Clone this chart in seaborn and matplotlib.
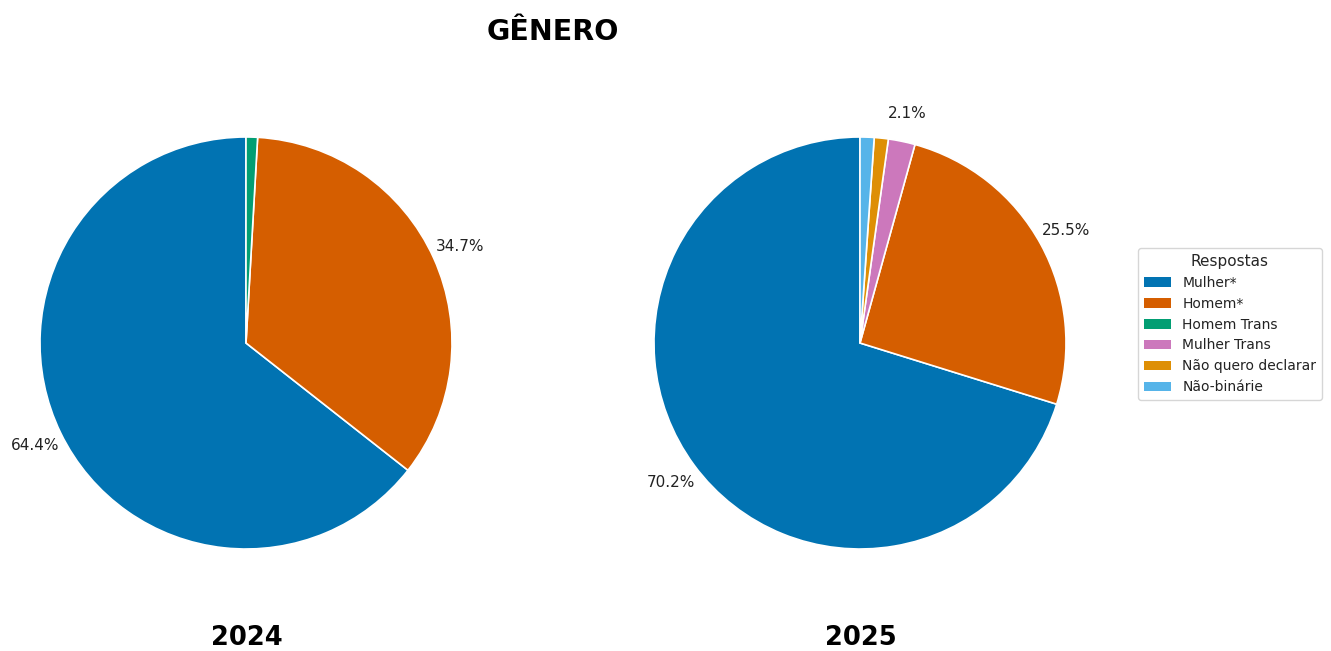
import matplotlib
matplotlib.use("Agg")
import matplotlib.pyplot as plt
import seaborn as sns
from matplotlib.patches import Patch

sns.set_theme(style="white")
plt.rcParams['font.family'] = ['DejaVu Sans']

categories = ["Mulher*", "Homem*", "Homem Trans", "Mulher Trans", "Não quero declarar", "Não-binárie"]
colors_cat = ["#0173b2", "#d55e00", "#029e73", "#cc78bc", "#de8f05", "#56b4e9"]

labels_2024 = ["Mulher*", "Homem*", "Homem Trans"]
values_2024 = [64.4, 34.7, 0.9]

labels_2025 = ["Mulher*", "Homem*", "Mulher Trans", "Não quero declarar", "Não-binárie"]
values_2025 = [70.2, 25.5, 2.1, 1.1, 1.1]

years = ["2024", "2025"]

W, H = 1331, 651
fig = plt.figure(figsize=(W / 100, H / 100), dpi=100)

cmap = dict(zip(categories, colors_cat))


def pct(p):
    return f"{p:.1f}%" if p > 2 else ""


def draw(cx, cy, r, labels, values, year):
    half = 1.25 * r
    ax = fig.add_axes([(cx - half) / W, (H - cy - half) / H, 2 * half / W, 2 * half / H])
    ax.pie(values, colors=[cmap[l] for l in labels], startangle=90,
           autopct=pct, pctdistance=1.14,
           wedgeprops=dict(edgecolor="white", linewidth=1.2),
           textprops=dict(fontsize=11, color="#222222"))
    ax.set_xlim(-1.25, 1.25)
    ax.set_ylim(-1.25, 1.25)
    ax.set_aspect("equal")
    ax.axis("off")
    fig.text((cx + 1) / W, 1 - 638 / H, year, ha="center", va="center",
             fontsize=18.5, fontweight="bold", color="black")


draw(246, 343, 206, labels_2024, values_2024, years[0])
draw(860, 343, 206, labels_2025, values_2025, years[1])

fig.text(553 / W, 1 - 32 / H, "GÊNERO", ha="center", va="center",
         fontsize=20.5, fontweight="bold", color="black")

handles = [Patch(facecolor=c, edgecolor="none") for c in colors_cat]
leg = fig.legend(handles, categories, title="Respostas", loc="center left",
                 bbox_to_anchor=(1131 / W, 1 - 324 / H), fontsize=10, title_fontsize=11,
                 frameon=True, edgecolor="#cccccc")
for t in leg.get_texts():
    t.set_color("#222222")

fig.savefig("out.png", dpi=100, facecolor="white")
